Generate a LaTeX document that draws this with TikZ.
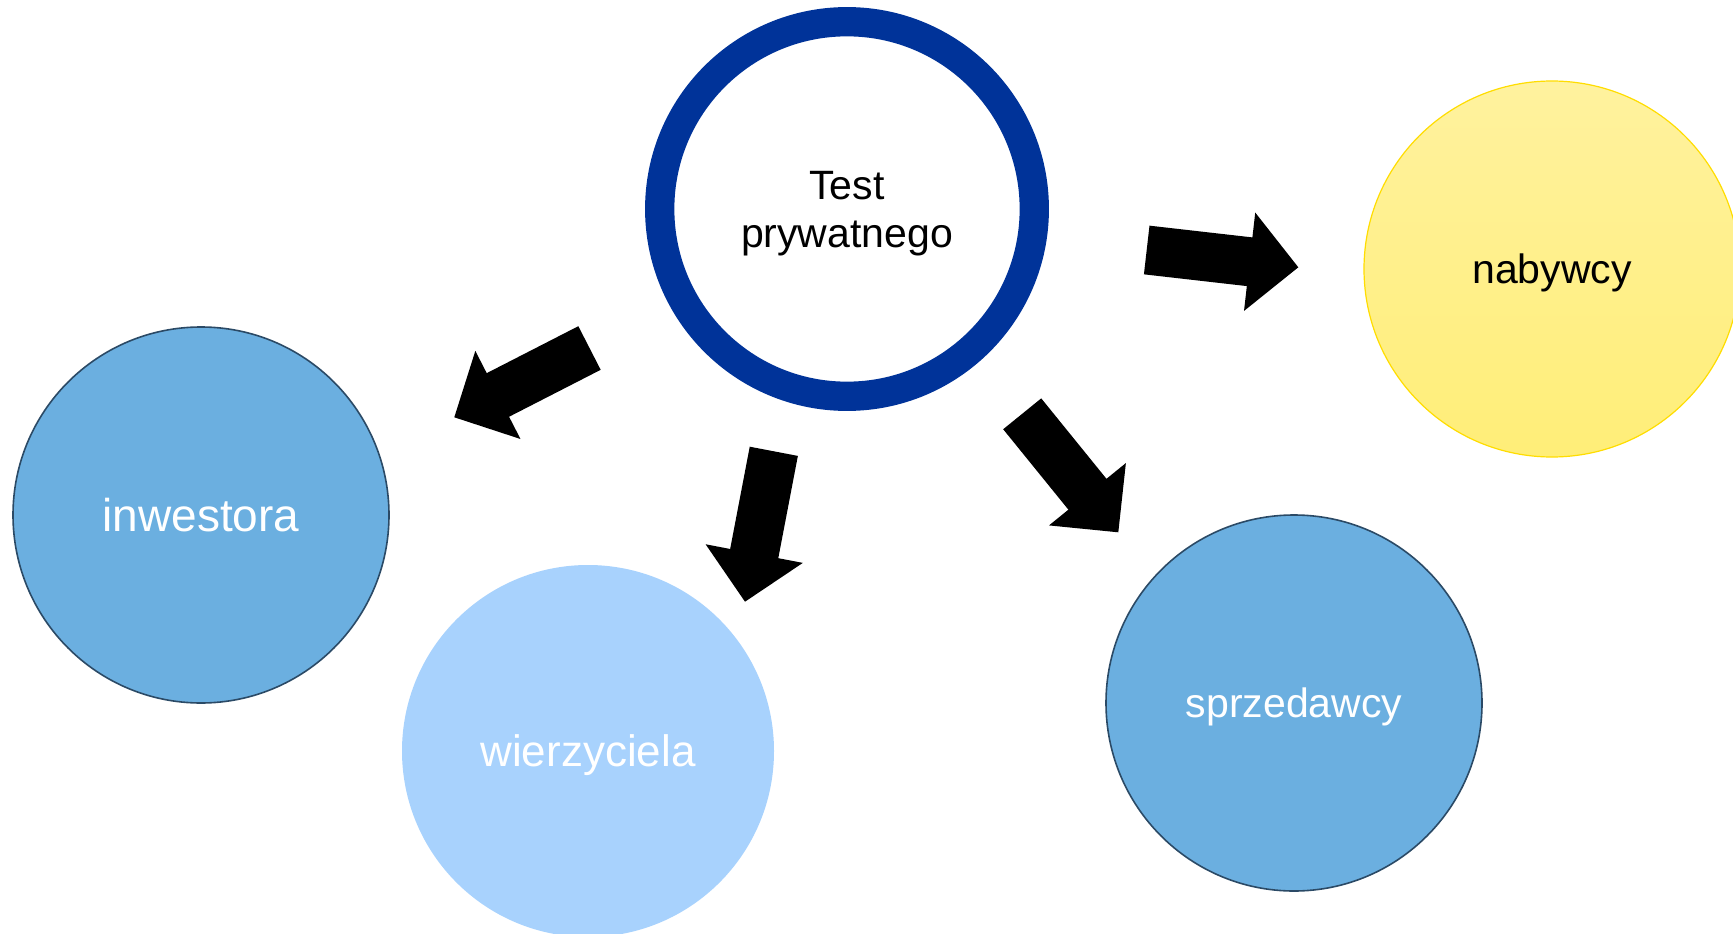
\documentclass[tikz,border=0pt]{standalone}
\usepackage{fontspec}
\setmainfont{Liberation Sans}
\usetikzlibrary{calc, positioning}
\definecolor{ringblue}{HTML}{003399}
\definecolor{midblue}{HTML}{6BAFE0}
\definecolor{paleblue}{HTML}{A8D2FD}
\definecolor{edgeblue}{HTML}{2B4A66}
\definecolor{sunlight}{HTML}{FFF29E}
\definecolor{sundark}{HTML}{FFEE78}
\definecolor{sunedge}{HTML}{FFDD00}
\tikzset{
    centre/.style={draw=ringblue, line width=29.3pt, circle, fill=white, minimum size=374.6pt, inner sep=0pt, text depth=0pt, align=center, font=\fontsize{41}{48}\selectfont},
    party/.style={circle, minimum size=376pt, inner sep=0pt, text depth=0pt, text=white, font=\fontsize{41}{48}\selectfont},
    dark/.style={party, fill=midblue, draw=edgeblue, line width=1.6pt},
    pale/.style={party, fill=paleblue, minimum size=372pt},
    sunny/.style={party, top color=sunlight, bottom color=sundark, draw=sunedge, line width=1.2pt, text=black},
    fat/.style={fill=black} }
% block arrow from tail centre #1 to tip #2
\newcommand{\bigarrow}[2]{%
  \coordinate (hb) at ($(#2)!49pt!(#1)$);
  \path[fat] ($(#1)!24.5pt!90:(#2)$) -- ($(hb)!24.5pt!-90:(#1)$) --
    ($(hb)!49.5pt!-90:(#1)$) -- (#2) -- ($(hb)!49.5pt!90:(#1)$) --
    ($(hb)!24.5pt!90:(#1)$) -- ($(#1)!24.5pt!-90:(#2)$) -- cycle;}

\begin{document}
\begin{tikzpicture}[x=1pt, y=-1pt]
  \fill[white] (0,0) rectangle (1733,934);
  \useasboundingbox (0,0) rectangle (1733,934);
  \node[centre] (test) at (847,209) {Test\\prywatnego};
  \node[sunny] (nab) at (1552,269) {nabywcy};
  \node[dark, font=\fontsize{46}{54}\selectfont] (inw) at (201,515) {inwestora};
  \node[pale, font=\fontsize{44}{52}\selectfont] (wie) at (588,751) {wierzyciela};
  \node[dark] (spr) at (1294,703) {sprzedawcy};
  % ----
  \coordinate (a1s) at (589.5,348);  \coordinate (a1e) at (454.3,417.3);
  \coordinate (a2s) at (773.8,451.3); \coordinate (a2e) at (745,601.7);
  \coordinate (a3s) at (1022.2,413.8); \coordinate (a3e) at (1118.3,532.3);
  \coordinate (a4s) at (1146.7,250);  \coordinate (a4e) at (1298.3,267.3);
  \bigarrow{a1s}{a1e}
  \bigarrow{a2s}{a2e}
  \bigarrow{a3s}{a3e}
  \bigarrow{a4s}{a4e}
\end{tikzpicture}
\end{document}
